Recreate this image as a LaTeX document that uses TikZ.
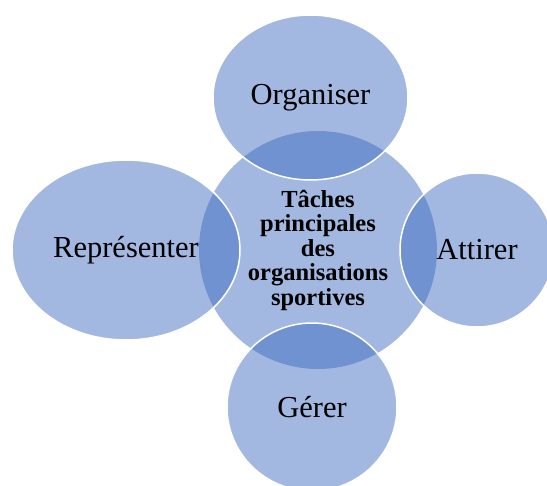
\documentclass[tikz,border=0pt]{standalone}
\usepackage{fontspec}
\setmainfont{Liberation Serif}
\usetikzlibrary{shapes.geometric}
\definecolor{basecol}{RGB}{54,101,188}
\tikzset{
  blob/.style={ellipse, inner sep=0pt, fill=basecol, fill opacity=0.46, draw=white, draw opacity=1, line width=1.5pt, text opacity=1, text=black, font=\fontsize{30.5}{36}\selectfont},
  hub/.style={circle, inner sep=0pt, fill=basecol, fill opacity=0.46, text opacity=1, text=black, align=center, font=\fontsize{24.5}{24.5}\selectfont\bfseries}
}
\begin{document}
\begin{tikzpicture}[x=1pt,y=-1pt]
\useasboundingbox (0,0) rectangle (547,486);
\clip (0,0) rectangle (547,486);
\node[hub, minimum size=238pt] (c) at (318,250) {Tâches\\principales\\des\\organisations\\sportives};
\node[blob, minimum width=195pt, minimum height=165pt] (o) at (310.5,97.5) {Organiser};
\node[blob, minimum width=228pt, minimum height=180pt] (r) at (126,250) {Représenter};
\node[blob, minimum width=154pt, minimum height=154pt] (a) at (477,250) {Attirer};
\node[blob, minimum width=170pt, minimum height=168pt] (g) at (312,407) {Gérer};
\end{tikzpicture}
\end{document}
